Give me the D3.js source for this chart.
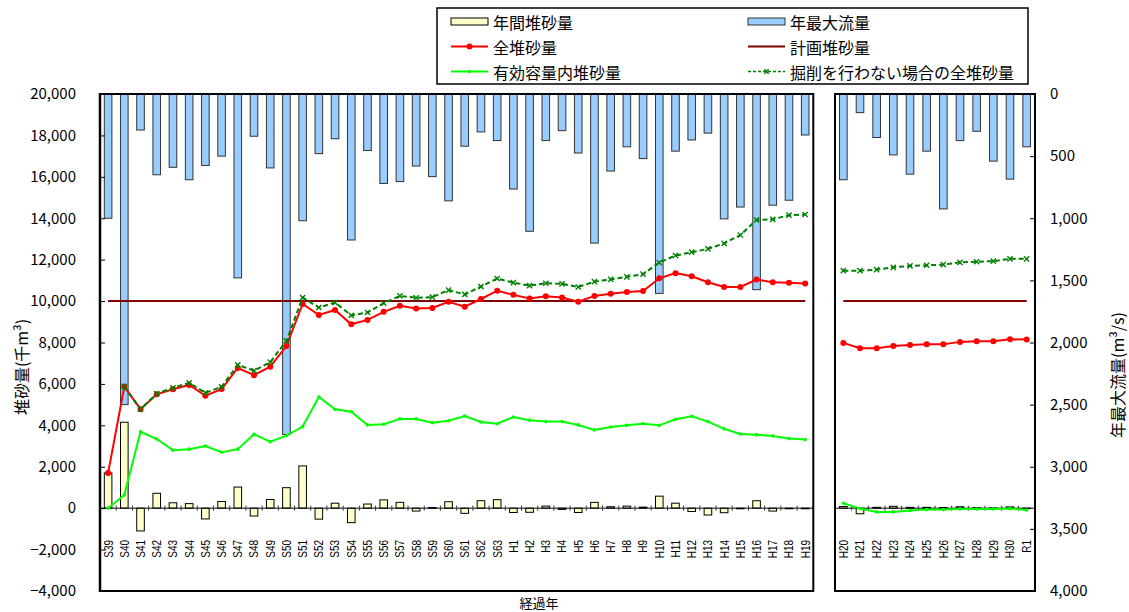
<!DOCTYPE html>
<html>
<head>
<meta charset="utf-8">
<script src="https://cdn.jsdelivr.net/npm/d3@7"></script>
<style>
  body { margin: 0; background: #fff; }
  svg { display: block; }
</style>
</head>
<body>
<svg id="chart" width="1129" height="612"></svg>
<script>
// ---- Categories (fiscal years) ----
const catsA = ["S39","S40","S41","S42","S43","S44","S45","S46","S47","S48","S49","S50","S51","S52","S53","S54","S55","S56","S57","S58","S59","S60","S61","S62","S63",
               "H1","H2","H3","H4","H5","H6","H7","H8","H9","H10","H11","H12","H13","H14","H15","H16","H17","H18","H19"];
const catsB = ["H20","H21","H22","H23","H24","H25","H26","H27","H28","H29","H30","R1"];

// ---- 年間堆砂量 (千m3) ----
const annualA = [1700,4150,-1100,720,260,220,-520,320,1020,-380,420,990,2040,-530,240,-700,200,400,280,-140,30,310,-250,360,410,
                 -210,-200,100,-60,-210,280,70,100,50,580,240,-160,-330,-220,-30,360,-140,-30,-30];
const annualB = [80,-270,40,90,40,40,30,70,20,10,60,-20];

// ---- 年最大流量 (m3/s) ----
const flowA = [1000,2500,290,650,590,690,575,500,1480,340,595,2740,1020,480,360,1175,455,720,705,580,665,860,420,305,375,
               765,1105,375,295,475,1200,620,425,520,1605,460,370,315,1005,910,1575,895,855,330];
const flowB = [690,150,350,490,645,460,925,375,300,540,685,425];

// ---- 全堆砂量 (千m3) ----
const totalA = [1700,5870,4780,5500,5740,5950,5430,5750,6770,6420,6830,7830,9860,9330,9570,8880,9090,9480,9770,9640,9670,9970,9730,10100,10500,
                10300,10120,10230,10170,9970,10250,10350,10440,10490,11100,11350,11200,10910,10680,10680,11040,10910,10880,10850];
const totalB = [7980,7720,7720,7830,7880,7920,7920,8030,8060,8060,8160,8140];

// ---- 掘削を行わない場合の全堆砂量 (千m3) ----
const noExcavA = [null,5870,4780,5530,5810,6050,5570,5860,6920,6640,7050,8080,10170,9690,9930,9310,9450,9900,10250,10160,10190,10530,10320,10700,11090,
                  10890,10750,10860,10830,10680,10940,11050,11170,11300,11860,12200,12360,12520,12790,13190,13920,13950,14150,14180];
const noExcavB = [11470,11470,11520,11630,11700,11730,11760,11870,11900,11930,12040,12040];

// ---- 有効容量内堆砂量 (千m3) ----
const effectiveA = [0,640,3690,3340,2800,2850,3000,2700,2850,3570,3210,3500,3940,5370,4780,4660,4020,4050,4310,4310,4130,4220,4450,4160,4080,
                    4400,4250,4180,4180,4020,3780,3920,4000,4080,4000,4290,4440,4180,3830,3580,3540,3490,3360,3310];
const effectiveB = [240,-20,-180,-180,-110,-70,-70,-40,-40,-40,-20,-90];

// ---- 計画堆砂量 (千m3) ----
const planVolume = 10000;

// ---- Axis ticks ----
const leftTicks = [-4000,-2000,0,2000,4000,6000,8000,10000,12000,14000,16000,18000,20000];
const rightTicks = [0,500,1000,1500,2000,2500,3000,3500,4000];

// ---- Styling ----
const JP = '"Noto Sans CJK JP", "Noto Sans", sans-serif';
const C = {
  annual: "#FFFFCC", flow: "#99CCFF", total: "#FF0000",
  plan: "#800000", effective: "#00FF00", noExcav: "#008000"
};

const svg = d3.select("#chart");
svg.append("rect").attr("width", 1129).attr("height", 612).attr("fill", "#fff");

const plotTop = 94, plotBottom = 591;
const yL = d3.scaleLinear().domain([-4000, 20000]).range([plotBottom, plotTop]);
const yR = d3.scaleLinear().domain([0, 4000]).range([plotTop, plotBottom]);
const fmt = d3.format(",");

function xMarker(sel, size) {
  sel.append("path")
    .attr("d", `M${-size},${-size}L${size},${size}M${-size},${size}L${size},${-size}`)
    .attr("stroke", C.noExcav).attr("stroke-width", 1.4).attr("fill", "none");
}

function drawPanel(cats, x0, x1, annual, flow, total, noExcav, effective) {
  const g = svg.append("g");
  const x = d3.scaleBand().domain(cats).range([x0, x1]);
  const cx = c => x(c) + x.bandwidth() / 2;
  const bw = 7.6;

  // 年間堆砂量 bars (left axis)
  g.append("g").selectAll("rect")
    .data(cats.map((c, i) => ({ c, v: annual[i] })))
    .join("rect")
    .attr("x", d => cx(d.c) - bw / 2)
    .attr("y", d => yL(Math.max(0, d.v)))
    .attr("width", bw)
    .attr("height", d => Math.abs(yL(d.v) - yL(0)))
    .attr("fill", C.annual).attr("stroke", "#000").attr("stroke-width", 1);

  // 年最大流量 bars hanging from the top (inverted right axis)
  g.append("g").selectAll("rect")
    .data(cats.map((c, i) => ({ c, v: flow[i] })))
    .join("rect")
    .attr("x", d => cx(d.c) - bw / 2)
    .attr("y", yR(0))
    .attr("width", bw)
    .attr("height", d => yR(d.v) - yR(0))
    .attr("fill", C.flow).attr("stroke", "#333").attr("stroke-width", 1);

  // zero line with category tick marks
  g.append("line").attr("x1", x0).attr("x2", x1).attr("y1", yL(0)).attr("y2", yL(0))
    .attr("stroke", "#000").attr("stroke-width", 1);
  const bounds = cats.map(c => x(c)).concat([x1]);
  g.append("g").selectAll("line").data(bounds).join("line")
    .attr("x1", d => d).attr("x2", d => d)
    .attr("y1", yL(0) - 2.5).attr("y2", yL(0) + 2.5)
    .attr("stroke", "#333").attr("stroke-width", 1);

  // category labels, rotated
  g.append("g").selectAll("text").data(cats).join("text")
    .attr("transform", c => `translate(${cx(c)},540) rotate(-90) scale(0.8,1)`)
    .attr("text-anchor", "end")
    .attr("dominant-baseline", "central")
    .attr("font-family", '"Liberation Sans", Arial, sans-serif')
    .attr("font-size", 12.5)
    .attr("fill", "#000")
    .text(c => c);

  // 計画堆砂量
  g.append("line")
    .attr("x1", cx(cats[0])).attr("x2", cx(cats[cats.length - 1]))
    .attr("y1", yL(planVolume)).attr("y2", yL(planVolume))
    .attr("stroke", C.plan).attr("stroke-width", 2);

  const pts = arr => cats.map((c, i) => ({ c, v: arr[i] })).filter(d => d.v !== null);
  const line = d3.line().x(d => cx(d.c)).y(d => yL(d.v));

  // 有効容量内堆砂量
  g.append("path").datum(pts(effective)).attr("d", line)
    .attr("fill", "none").attr("stroke", C.effective).attr("stroke-width", 2);
  g.append("g").selectAll("circle").data(pts(effective)).join("circle")
    .attr("cx", d => cx(d.c)).attr("cy", d => yL(d.v)).attr("r", 1.8)
    .attr("fill", C.effective);

  // 全堆砂量
  g.append("path").datum(pts(total)).attr("d", line)
    .attr("fill", "none").attr("stroke", C.total).attr("stroke-width", 2);
  g.append("g").selectAll("circle").data(pts(total)).join("circle")
    .attr("cx", d => cx(d.c)).attr("cy", d => yL(d.v)).attr("r", 3)
    .attr("fill", C.total);

  // 掘削を行わない場合の全堆砂量
  g.append("path").datum(pts(noExcav)).attr("d", line)
    .attr("fill", "none").attr("stroke", C.noExcav).attr("stroke-width", 2)
    .attr("stroke-dasharray", "5,3");
  g.append("g").selectAll("g").data(pts(noExcav)).join("g")
    .attr("transform", d => `translate(${cx(d.c)},${yL(d.v)})`)
    .call(s => xMarker(s, 2.6));

  return g;
}

drawPanel(catsA, 100, 813.3, annualA, flowA, totalA, noExcavA, effectiveA);
drawPanel(catsB, 835, 1035, annualB, flowB, totalB, noExcavB, effectiveB);

// ---- Panel frames ----
svg.append("path")
  .attr("d", `M100,${plotTop}H813.3V${plotBottom}H100`)
  .attr("fill", "none").attr("stroke", "#000").attr("stroke-width", 2);
svg.append("rect")
  .attr("x", 835).attr("y", plotTop).attr("width", 200).attr("height", plotBottom - plotTop)
  .attr("fill", "none").attr("stroke", "#000").attr("stroke-width", 2);

// ---- Left axis (堆砂量) ----
const leftAxis = svg.append("g").attr("transform", "translate(100,0)")
  .call(d3.axisLeft(yL).tickValues(leftTicks).tickSizeInner(-5).tickSizeOuter(0)
        .tickPadding(24).tickFormat(fmt));
leftAxis.select(".domain").remove();
leftAxis.selectAll(".tick line").attr("stroke", "#000");
leftAxis.selectAll("text").attr("font-family", JP).attr("font-size", 15).attr("fill", "#000");
svg.append("line").attr("x1", 100).attr("x2", 100).attr("y1", plotTop - 1).attr("y2", plotBottom + 1)
  .attr("stroke", "#000").attr("stroke-width", 2.5);

// ---- Right axis (年最大流量) ----
const rightAxis = svg.append("g").attr("transform", "translate(1035,0)")
  .call(d3.axisRight(yR).tickValues(rightTicks).tickSizeInner(-5).tickSizeOuter(0)
        .tickPadding(15).tickFormat(fmt));
rightAxis.select(".domain").remove();
rightAxis.selectAll(".tick line").attr("stroke", "#000");
rightAxis.selectAll("text").attr("font-family", JP).attr("font-size", 15).attr("fill", "#000");

// ---- Axis titles ----
svg.append("text")
  .attr("transform", "translate(21,367) rotate(-90)")
  .attr("text-anchor", "middle").attr("dominant-baseline", "central")
  .attr("font-family", JP).attr("font-size", 16).attr("fill", "#000")
  .text("堆砂量(千m³)");
svg.append("text")
  .attr("transform", "translate(1117,375) rotate(-90)")
  .attr("text-anchor", "middle").attr("dominant-baseline", "central")
  .attr("font-family", JP).attr("font-size", 16).attr("fill", "#000")
  .text("年最大流量(m³/s)");
svg.append("text")
  .attr("x", 539).attr("y", 602)
  .attr("text-anchor", "middle").attr("dominant-baseline", "central")
  .attr("font-family", JP).attr("font-size", 13).attr("fill", "#000")
  .text("経過年");

// ---- Legend ----
const legend = svg.append("g");
legend.append("rect").attr("x", 437).attr("y", 8).attr("width", 591).attr("height", 76)
  .attr("fill", "#fff").attr("stroke", "#000").attr("stroke-width", 1.5);

const legendItems = [
  { label: "年間堆砂量", kind: "bar", color: C.annual, stroke: "#000", col: 0, row: 0 },
  { label: "年最大流量", kind: "bar", color: C.flow, stroke: "#333", col: 1, row: 0 },
  { label: "全堆砂量", kind: "total", col: 0, row: 1 },
  { label: "計画堆砂量", kind: "plan", col: 1, row: 1 },
  { label: "有効容量内堆砂量", kind: "effective", col: 0, row: 2 },
  { label: "掘削を行わない場合の全堆砂量", kind: "noExcav", col: 1, row: 2 }
];
const colX = [451, 748];
const rowY = [21.5, 46.5, 71.5];
legendItems.forEach(it => {
  const x = colX[it.col], y = rowY[it.row], w = 37;
  const item = legend.append("g");
  if (it.kind === "bar") {
    item.append("rect").attr("x", x).attr("y", y - 3.5).attr("width", w).attr("height", 7)
      .attr("fill", it.color).attr("stroke", it.stroke).attr("stroke-width", 1);
  } else if (it.kind === "total") {
    item.append("line").attr("x1", x).attr("x2", x + w).attr("y1", y).attr("y2", y)
      .attr("stroke", C.total).attr("stroke-width", 2);
    item.append("circle").attr("cx", x + w / 2).attr("cy", y).attr("r", 3).attr("fill", C.total);
  } else if (it.kind === "plan") {
    item.append("line").attr("x1", x).attr("x2", x + w).attr("y1", y).attr("y2", y)
      .attr("stroke", C.plan).attr("stroke-width", 2);
  } else if (it.kind === "effective") {
    item.append("line").attr("x1", x).attr("x2", x + w).attr("y1", y).attr("y2", y)
      .attr("stroke", C.effective).attr("stroke-width", 2);
    item.append("circle").attr("cx", x + w / 2).attr("cy", y).attr("r", 1.8).attr("fill", C.effective);
  } else {
    item.append("line").attr("x1", x).attr("x2", x + w).attr("y1", y).attr("y2", y)
      .attr("stroke", C.noExcav).attr("stroke-width", 1.5).attr("stroke-dasharray", "3,2");
    item.append("g").attr("transform", `translate(${x + w / 2},${y})`).call(s => xMarker(s, 2.2));
  }
  item.append("text").attr("x", x + w + 5).attr("y", y)
    .attr("dominant-baseline", "central")
    .attr("font-family", JP).attr("font-size", 16).attr("fill", "#000")
    .text(it.label);
});
</script>
</body>
</html>
